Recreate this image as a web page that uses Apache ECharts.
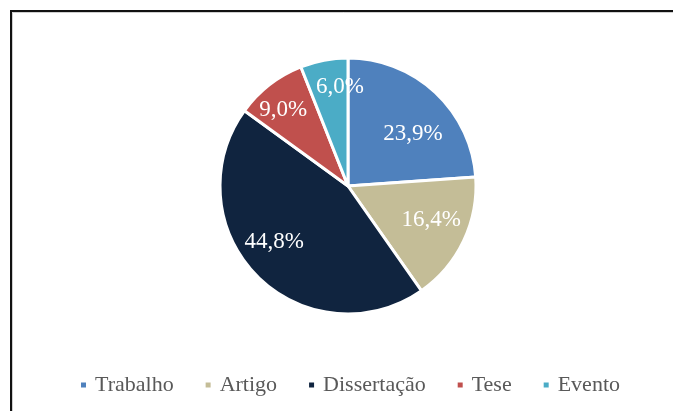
<!DOCTYPE html>
<html>
<head>
<meta charset="utf-8">
<script src="https://cdn.jsdelivr.net/npm/echarts@6/dist/echarts.min.js"></script>
<style>
html,body{margin:0;padding:0;background:#fff;}
#chart{width:673px;height:411px;}
</style>
</head>
<body>
<div id="chart"></div>
<script>
const categories = ['Trabalho', 'Artigo', 'Dissertação', 'Tese', 'Evento'];
const values = [23.9, 16.4, 44.8, 9.0, 6.0];
const labelTexts = ['23,9%', '16,4%', '44,8%', '9,0%', '6,0%'];
const colors = ['#4F81BD', '#C4BD97', '#10243F', '#C0504D', '#4BACC6'];
// label nudges as padding [top, right, bottom, left] to match the reference placement
const labelPads = [[29,0,0,6],[0,0,10,2],[0,18,16,0],[0,18,9,0],[0,0,19,18]];

const chart = echarts.init(document.getElementById('chart'));
const font = '"Liberation Serif", "Times New Roman", serif';

const mainData = categories.map((c, i) => ({
  name: c, value: values[i], itemStyle: { color: colors[i] }
}));
const rich = {};
labelPads.forEach((p, i) => {
  rich['p' + i] = { padding: p, color: '#ffffff', fontFamily: font, fontSize: 23 };
});
const labelData = categories.map((c, i) => ({
  name: c, value: values[i],
  label: { formatter: '{p' + i + '|' + labelTexts[i] + '}' }
}));

chart.setOption({
  backgroundColor: '#ffffff',
  animation: false,
  color: colors,
  graphic: [
    { type: 'rect', silent: true, z: 0,
      shape: { x: 12.5, y: 12.5, width: 720, height: 450 },
      style: { fill: 'none', stroke: '#cfcfcf', lineWidth: 1 } },
    { type: 'rect', silent: true, z: 1,
      shape: { x: 11, y: 11, width: 720, height: 450 },
      style: { fill: 'none', stroke: '#111111', lineWidth: 2 } }
  ],
  legend: {
    left: 74,
    top: 369,
    itemWidth: 7,
    itemHeight: 7,
    itemGap: 30,
    icon: 'rect',
    data: categories.map((c, i) => ({ name: c, itemStyle: { color: colors[i] } })),
    textStyle: { fontFamily: font, fontSize: 22, color: '#595959', padding: [0, 0, 0, 3] }
  },
  series: [
    {
      type: 'pie',
      center: [348, 186],
      radius: [0, 128],
      startAngle: 90,
      clockwise: true,
      avoidLabelOverlap: false,
      label: { show: false },
      labelLine: { show: false },
      itemStyle: { borderColor: '#ffffff', borderWidth: 3 },
      emphasis: { disabled: true },
      data: mainData
    },
    {
      type: 'pie',
      center: [348, 186],
      radius: [0, 176],
      startAngle: 90,
      clockwise: true,
      silent: true,
      z: 5,
      avoidLabelOverlap: false,
      itemStyle: { color: 'rgba(0,0,0,0)', borderWidth: 0 },
      label: {
        show: true,
        position: 'inside',
        color: '#ffffff',
        fontFamily: font,
        fontSize: 23,
        rich: rich
      },
      labelLine: { show: false },
      emphasis: { disabled: true },
      data: labelData
    }
  ]
});
</script>
</body>
</html>
